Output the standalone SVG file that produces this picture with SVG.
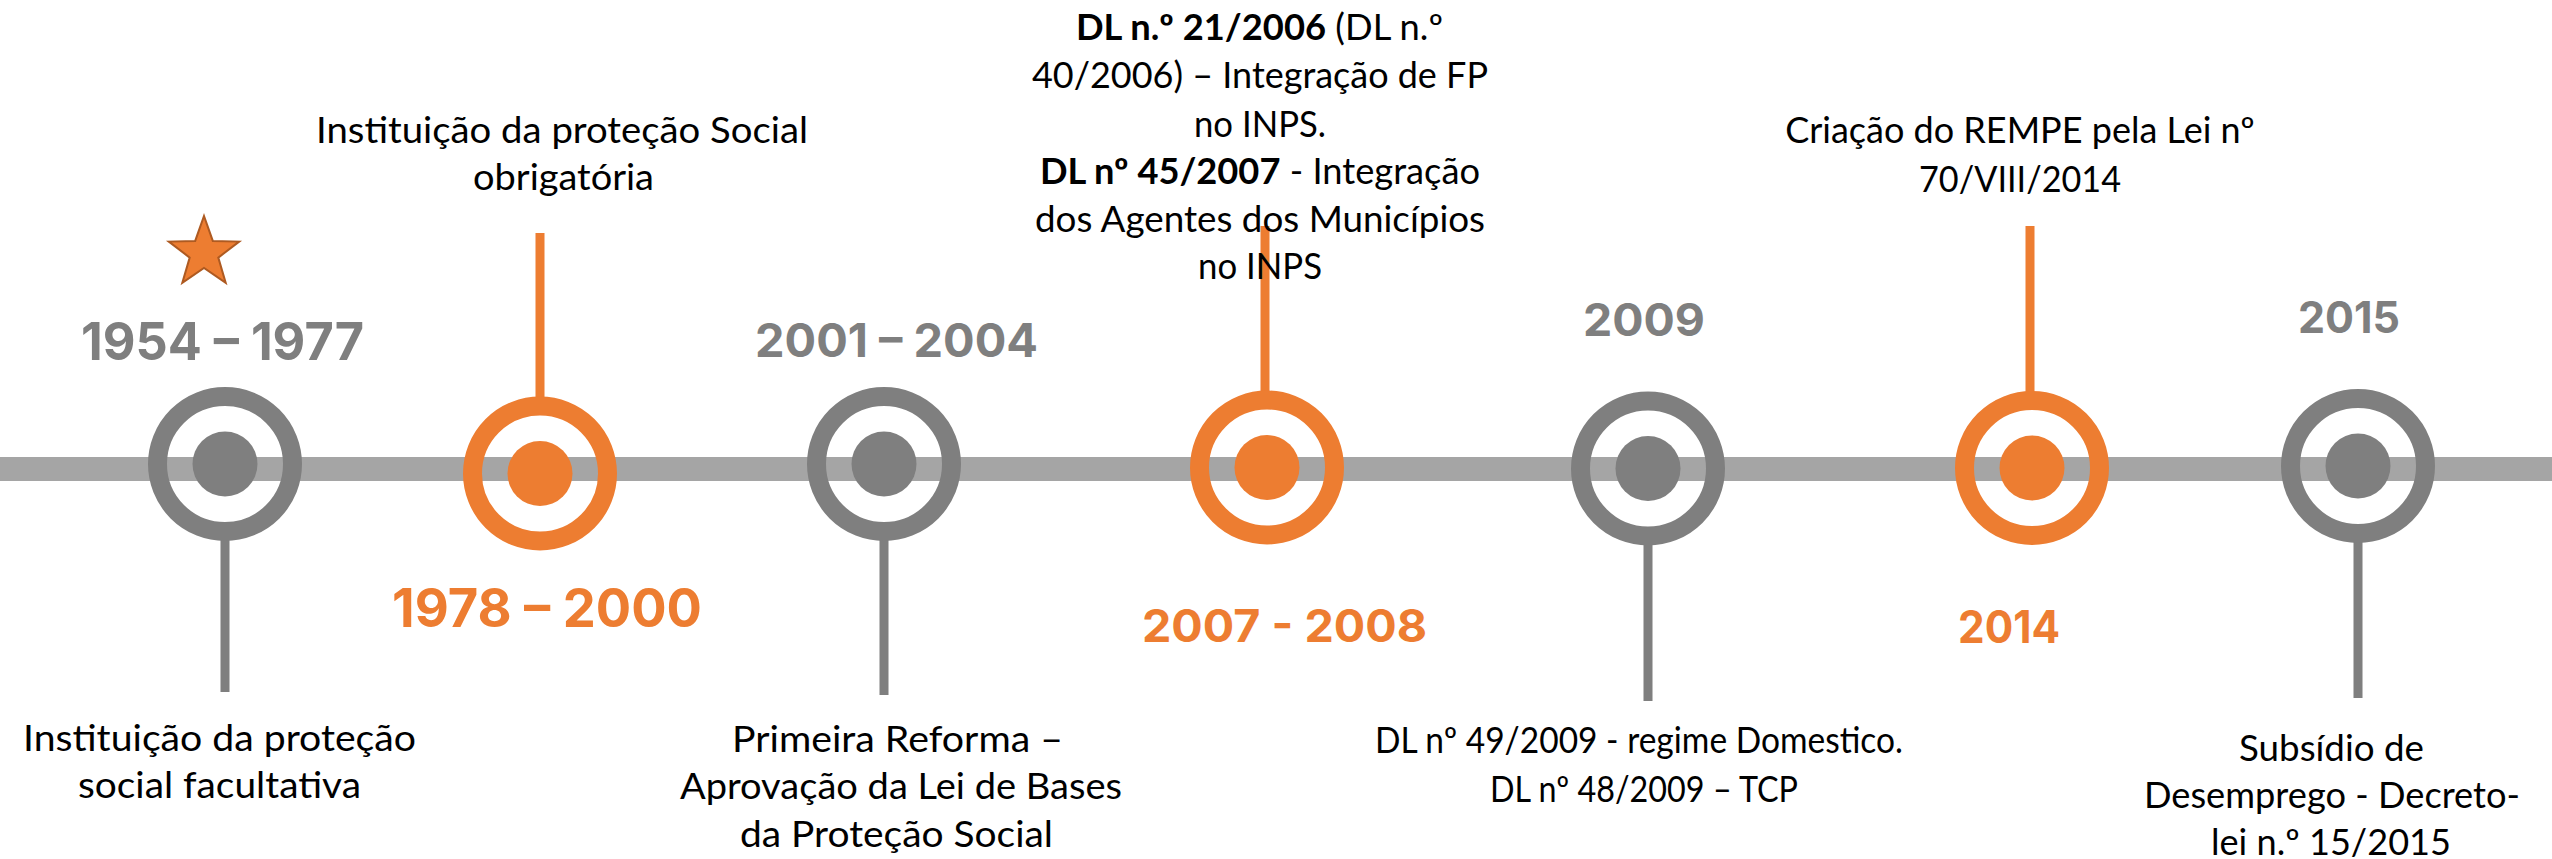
<svg xmlns="http://www.w3.org/2000/svg" width="2552" height="859" viewBox="0 0 2552 859">
<style>
.bar{fill:#A5A5A5}
.ringG{fill:none;stroke:#7F7F7F;stroke-width:19}
.ringO{fill:none;stroke:#ED7D31;stroke-width:19}
.dotG{fill:#7F7F7F}
.dotO{fill:#ED7D31}
.stemG{stroke:#7F7F7F;stroke-width:9}
.stemO{stroke:#ED7D31;stroke-width:9}
.yr{font-family:Inter,"Liberation Sans",sans-serif;font-weight:700}
.yrG{fill:#7F7F7F}
.yrO{fill:#ED7D31}
.body{font-family:Lato,"Liberation Sans",sans-serif;font-size:36px;fill:#000}
.b{font-weight:700}
</style>
<rect class="bar" x="0" y="457" width="2552" height="24"/>
<g id="connectors">
<line class="stemG" x1="225" y1="540" x2="225" y2="692"/>
<line class="stemO" x1="540" y1="233" x2="540" y2="398"/>
<line class="stemG" x1="884" y1="540" x2="884" y2="695"/>
<line class="stemO" x1="1265" y1="226" x2="1265" y2="392"/>
<line class="stemG" x1="1648" y1="544" x2="1648" y2="701"/>
<line class="stemO" x1="2030" y1="226" x2="2030" y2="392"/>
<line class="stemG" x1="2358" y1="542" x2="2358" y2="698"/>
</g>
<g id="node1">
<circle class="ringG" cx="225" cy="464" r="67.5"/>
<circle class="dotG" cx="225" cy="464" r="32.5"/>
<polygon points="204,216 212.8,240.9 239.2,241.6 218.3,257.6 225.7,282.9 204,268 182.3,282.9 189.7,257.6 168.8,241.6 195.2,240.9" fill="#ED7D31" stroke="#AE5A21" stroke-width="2"/>
<text class="yr yrG" x="81" y="360" font-size="52" textLength="283" lengthAdjust="spacingAndGlyphs">1954 – 1977</text>
<text class="body" x="23" y="751" textLength="393" lengthAdjust="spacingAndGlyphs">Instituição da proteção</text>
<text class="body" x="78" y="798" textLength="283" lengthAdjust="spacingAndGlyphs">social facultativa</text>
</g>
<g id="node2">
<circle class="ringO" cx="540" cy="473.5" r="67.5"/>
<circle class="dotO" cx="540" cy="473.5" r="32.5"/>
<text class="yr yrO" x="392" y="627" font-size="53" textLength="310" lengthAdjust="spacingAndGlyphs">1978 – 2000</text>
<text class="body" x="316" y="143" textLength="492" lengthAdjust="spacingAndGlyphs">Instituição da proteção Social</text>
<text class="body" x="473" y="190" textLength="181" lengthAdjust="spacingAndGlyphs">obrigatória</text>
</g>
<g id="node3">
<circle class="ringG" cx="884" cy="464" r="67.5"/>
<circle class="dotG" cx="884" cy="464" r="32.5"/>
<text class="yr yrG" x="755" y="357" font-size="47" textLength="283" lengthAdjust="spacingAndGlyphs">2001 – 2004</text>
<text class="body" x="732" y="752" textLength="331" lengthAdjust="spacingAndGlyphs">Primeira Reforma –</text>
<text class="body" x="680" y="799" textLength="442" lengthAdjust="spacingAndGlyphs">Aprovação da Lei de Bases</text>
<text class="body" x="740" y="847" textLength="313" lengthAdjust="spacingAndGlyphs">da Proteção Social</text>
</g>
<g id="node4">
<circle class="ringO" cx="1267" cy="467.5" r="67.5"/>
<circle class="dotO" cx="1267" cy="467.5" r="32.5"/>
<text class="yr yrO" x="1142" y="642" font-size="45" textLength="285" lengthAdjust="spacingAndGlyphs">2007 - 2008</text>
<text class="body" x="1076" y="40" textLength="367" lengthAdjust="spacingAndGlyphs"><tspan class="b">DL n.º 21/2006</tspan> (DL n.º</text>
<text class="body" x="1032" y="88" textLength="456" lengthAdjust="spacingAndGlyphs">40/2006) – Integração de FP</text>
<text class="body" x="1194" y="137" textLength="132" lengthAdjust="spacingAndGlyphs">no INPS.</text>
<text class="body" x="1040" y="184" textLength="440" lengthAdjust="spacingAndGlyphs"><tspan class="b">DL nº 45/2007</tspan> - Integração</text>
<text class="body" x="1035" y="232" textLength="450" lengthAdjust="spacingAndGlyphs">dos Agentes dos Municípios</text>
<text class="body" x="1198" y="279" textLength="124" lengthAdjust="spacingAndGlyphs">no INPS</text>
</g>
<g id="node5">
<circle class="ringG" cx="1648" cy="468.5" r="67.5"/>
<circle class="dotG" cx="1648" cy="468.5" r="32.5"/>
<text class="yr yrG" x="1583" y="336" font-size="45" textLength="122" lengthAdjust="spacingAndGlyphs">2009</text>
<text class="body" x="1375" y="753" font-size="33" textLength="528" lengthAdjust="spacingAndGlyphs">DL nº 49/2009 - regime Domestico.</text>
<text class="body" x="1490" y="802" font-size="33" textLength="308" lengthAdjust="spacingAndGlyphs">DL nº 48/2009 – TCP</text>
</g>
<g id="node6">
<circle class="ringO" cx="2032" cy="468" r="67.5"/>
<circle class="dotO" cx="2032" cy="468" r="32.5"/>
<text class="yr yrO" x="1958" y="643" font-size="45" textLength="102" lengthAdjust="spacingAndGlyphs">2014</text>
<text class="body" x="2020" y="143" text-anchor="middle">Criação do REMPE pela Lei nº</text>
<text class="body" x="1919" y="192" textLength="202" lengthAdjust="spacingAndGlyphs">70/VIII/2014</text>
</g>
<g id="node7">
<circle class="ringG" cx="2358" cy="466" r="67.5"/>
<circle class="dotG" cx="2358" cy="466" r="32.5"/>
<text class="yr yrG" x="2298" y="333" font-size="44" textLength="102" lengthAdjust="spacingAndGlyphs">2015</text>
<text class="body" x="2239" y="761" textLength="185" lengthAdjust="spacingAndGlyphs">Subsídio de</text>
<text class="body" x="2144" y="808" textLength="376" lengthAdjust="spacingAndGlyphs">Desemprego - Decreto-</text>
<text class="body" x="2211" y="855" textLength="240" lengthAdjust="spacingAndGlyphs">lei n.º 15/2015</text>
</g>
</svg>
